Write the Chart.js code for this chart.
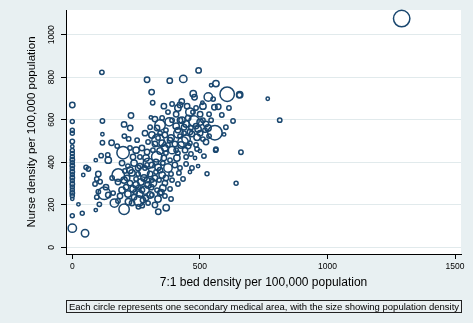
<!DOCTYPE html>
<html lang="en">
<head>
    <meta charset="UTF-8">
    <title>Nurse density vs 7:1 bed density</title>
    <script src="https://cdn.jsdelivr.net/npm/chart.js@4.4.0/dist/chart.umd.min.js"></script>
    <style>
        html, body { margin: 0; padding: 0; background: #e8f0f2; }
        #wrap { width: 473px; height: 323px; position: relative; }
    </style>
</head>
<body>
    <div id="wrap">
        <canvas id="bubbleChart"></canvas>
    </div>

<script>
    // one entry per secondary medical area
    const bedDensity = [
        // areas with no 7:1 beds
        0,0,0,0,0,0,0,0,0,0,0,0,0,0,0,0,0,0,0,0,0,0,0,0,0,
        // low bed density / scattered
        50,24,39,43,54,63,92,102,96,89,109,102,96,106,92,118,118,118,113,139,
        125,165,203,141,132,154,176,199,203,227,230,204,221,254,308,344,380,416,141,180,
        259,274,220,337,368,349,331,298,528,642,661,562,500,563,655,766,813,1291,559,595,
        // upper part of the cloud
        495,435,382,563,544,607,656,474,479,533,429,510,572,557,586,311,315,293,116,
        // dense core
        359,391,414,450,485,512,461,407,501,536,375,
        324,352,430,454,477,501,524,544,407,438,465,493,520,305,332,367,391,
        285,312,336,363,387,422,446,469,489,512,536,297,324,352,375,402,426,461,485,336,434,
        226,250,273,293,316,344,367,391,414,442,465,489,516,238,265,289,359,383,410,446,481,
        195,218,242,265,285,312,336,355,375,402,422,446,469,493,206,234,258,281,305,328,352,387,418,461,
        156,179,203,226,250,269,293,316,340,363,391,414,211,238,261,285,309,332,355,383,434,
        160,187,218,242,265,289,312,336,363,387,179,234,297,324,261,
        614,630,602,552,
        226,250,273,297,324,305,344,281,258,215,195,293,328,367,246,277,312,344,
        422,446,461,485,512,532,414,438,501,524,383,363,407,454,344,473,422
    ];
    const nurseDensity = [
        669,592,550,536,498,474,455,441,426,412,398,384,370,355,341,327,313,298,284,270,256,242,228,148,90,
        66,202,160,340,376,368,410,345,321,298,308,261,236,202,175,594,532,492,431,434,
        254,208,179,246,283,492,476,445,578,561,620,523,510,504,611,575,590,536,410,340,
        191,196,214,167,186,259,426,395,346,301,447,457,453,461,716,699,598,1076,539,531,
        832,792,784,770,762,720,718,722,706,707,686,680,661,659,622,730,680,788,823,
        664,674,655,664,655,664,636,626,626,626,636,
        603,608,598,608,594,589,580,598,570,565,561,556,551,565,561,551,598,
        537,528,514,528,514,523,509,533,518,509,523,495,486,490,481,486,481,490,481,504,496,
        467,457,467,448,457,453,443,457,443,457,439,462,429,425,425,420,420,410,420,425,420,
        396,382,396,382,373,387,377,396,373,387,373,392,373,382,359,350,345,354,345,354,340,345,350,354,
        326,307,316,302,321,307,316,302,316,302,316,298,283,274,283,269,283,269,279,274,321,
        255,241,251,236,251,232,246,227,241,227,218,208,208,199,218,
        655,594,565,697,
        363,293,269,293,326,246,255,326,373,326,269,387,401,326,260,222,316,363,
        598,580,542,570,598,561,551,537,537,495,504,467,457,476,537,636,669
    ];
    // population density, drives the circle size
    const popDensity = [
        100,52,52,52,64,36,52,52,52,64,52,64,52,64,52,64,52,64,52,52,64,52,36,52,256,
        196,36,52,36,64,64,36,100,64,64,64,64,64,64,36,64,36,64,64,64,
        576,256,400,100,100,100,64,576,100,100,100,64,64,64,36,400,256,324,144,576,
        64,64,144,100,144,100,400,400,52,52,64,64,36,64,100,36,64,1024,784,36,
        100,196,100,144,36,784,144,144,100,256,100,36,100,100,64,100,64,100,64,
        100,64,144,100,64,144,256,100,100,64,64,
        100,64,144,100,400,144,100,64,144,100,64,144,64,64,100,64,64,
        100,144,64,100,144,64,256,100,144,64,64,64,100,144,64,100,144,64,64,576,400,
        64,144,100,100,64,144,64,196,64,100,64,64,64,100,64,144,100,64,144,64,36,
        100,64,144,100,64,100,144,64,256,100,64,64,64,36,64,144,64,400,100,64,144,64,64,36,
        64,100,144,100,64,144,100,196,64,100,64,64,100,144,64,256,100,64,144,64,64,
        64,100,144,100,144,100,64,144,64,64,64,100,64,100,400,
        64,64,64,64,
        144,144,100,144,100,144,100,144,100,100,144,64,100,100,64,100,64,100,
        100,144,100,100,64,144,100,64,100,100,100,144,64,100,64,64,100
    ];

    const xTicks = [0, 500, 1000, 1500];
    const yTicks = [0, 200, 400, 600, 800, 1000];

    const xTitle = '7:1 bed density per 100,000 population';
    const yTitle = 'Nurse density per 100,000 population';
    const caption = 'Each circle represents one secondary medical area, with the size showing population density';

    const points = bedDensity.map((x, i) => ({
        x: x,
        y: nurseDensity[i],
        r: Math.sqrt(popDensity[i]) / 4 + 0.2
    }));

    const FONT = '"Liberation Sans", Arial, Helvetica, sans-serif';

    // stata-like look: white plot region, rotated y labels, note box
    const stataLook = {
        id: 'stataLook',
        beforeDraw(chart) {
            const {ctx, chartArea: a} = chart;
            ctx.save();
            ctx.fillStyle = '#ffffff';
            ctx.fillRect(a.left, a.top, a.right - a.left, a.bottom - a.top);
            ctx.restore();
        },
        afterDraw(chart) {
            const {ctx, chartArea: a} = chart;
            const ys = chart.scales.y;
            ctx.save();
            ctx.fillStyle = '#000';
            ctx.font = '8.5px ' + FONT;
            ctx.textAlign = 'center';
            ctx.textBaseline = 'middle';
            yTicks.forEach(v => {
                ctx.save();
                ctx.translate(a.left - 14, ys.getPixelForValue(v));
                ctx.rotate(-Math.PI / 2);
                ctx.fillText(String(v), 0, 0);
                ctx.restore();
            });

            // note box
            const bx = a.left + 0.5, by = 300.5, bw = a.right - a.left, bh = 12;
            ctx.fillStyle = '#e9eff1';
            ctx.fillRect(bx, by, bw, bh);
            ctx.strokeStyle = '#222';
            ctx.lineWidth = 1;
            ctx.strokeRect(bx, by, bw, bh);
            ctx.fillStyle = '#000';
            ctx.font = '9.5px ' + FONT;
            ctx.fillText(caption, bx + bw / 2, by + bh / 2 + 0.5);
            ctx.restore();
        }
    };

    const ctx = document.getElementById('bubbleChart');

    const chart = new Chart(ctx, {
        type: 'bubble',
        data: {
            datasets: [{
                data: points,
                backgroundColor: 'rgba(0,0,0,0)',
                borderColor: '#1a476f',
                borderWidth: 1.5,
                hoverRadius: 0,
                clip: false
            }]
        },
        options: {
            responsive: true,
            maintainAspectRatio: false,
            animation: false,
            events: [],
            layout: {
                padding: { top: 10, right: 12, left: 0, bottom: 0 }
            },
            plugins: {
                legend: { display: false },
                tooltip: { enabled: false }
            },
            scales: {
                x: {
                    type: 'linear',
                    min: -24.7,
                    max: 1523.5,
                    afterBuildTicks: (s) => { s.ticks = xTicks.map(v => ({ value: v })); },
                    afterFit: (s) => { s.height = 69; },
                    grid: {
                        drawOnChartArea: false,
                        drawTicks: true,
                        tickLength: 5,
                        tickColor: '#000'
                    },
                    border: { display: true, color: '#000', width: 1 },
                    ticks: {
                        color: '#000',
                        font: { family: FONT, size: 8.5 },
                        padding: 3,
                        maxRotation: 0,
                        callback: (v) => String(v)
                    },
                    title: {
                        display: true,
                        text: xTitle,
                        color: '#000',
                        font: { family: FONT, size: 12 },
                        padding: { top: 0, bottom: 33 }
                    }
                },
                y: {
                    type: 'linear',
                    min: -31.5,
                    max: 1116.2,
                    afterBuildTicks: (s) => { s.ticks = yTicks.map(v => ({ value: v })); },
                    afterFit: (s) => { s.width = 66; },
                    grid: {
                        color: '#e1eaec',
                        lineWidth: 1,
                        drawTicks: true,
                        tickLength: 5,
                        tickColor: '#000'
                    },
                    border: { display: true, color: '#000', width: 1 },
                    ticks: { display: false },
                    title: {
                        display: true,
                        text: yTitle,
                        color: '#000',
                        font: { family: FONT, size: 11.5 },
                        padding: { top: 25, bottom: 0 }
                    }
                }
            }
        },
        plugins: [stataLook]
    });
</script>
</body>
</html>
